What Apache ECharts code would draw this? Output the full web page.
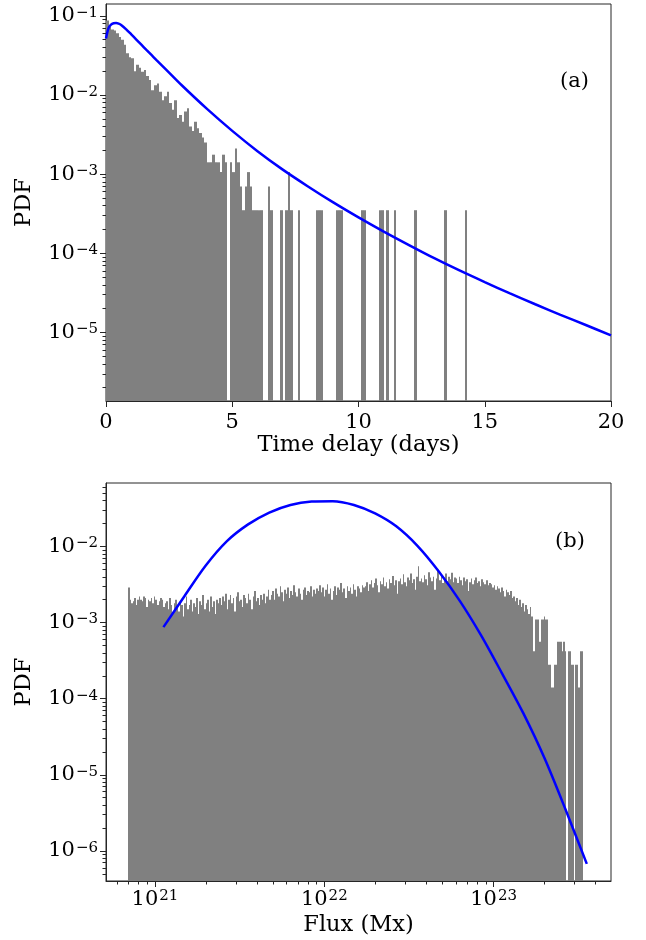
<!DOCTYPE html>
<html><head><meta charset="utf-8">
<script src="https://cdn.jsdelivr.net/npm/echarts@6/dist/echarts.min.js"></script>
<style>html,body{margin:0;padding:0;background:#fff}#c{width:646px;height:940px}</style>
</head><body><div id="c"></div>
<script>
// ---------- Panel (a): time delay ----------
const delayBinWidth = 0.1; // days per histogram bin, bins start at 0
const delayPdf = [
  0.087, 0.073, 0.067, 0.065, 0.060, 0.054, 0.050, 0.043, 0.0336, 0.030,
  0.029, 0.020, 0.024, 0.022, 0.0197, 0.0206, 0.0173, 0.0154, 0.0115, 0.0133,
  0.0140, 0.0110, 0.0086, 0.0096, 0.0110, 0.0079, 0.0065, 0.0086, 0.0051, 0.0056,
  0.0046, 0.0062, 0.0068, 0.0040, 0.0035, 0.0046, 0.0038, 0.0033, 0.0029, 0.0025,
  0.00141, 0.00141, 0.00176, 0.00141, 0.00141, 0.00106, 0.00176, 0.00141, 0, 0.00141,
  0.00106, 0.00211, 0.00141, 0.00070, 0.00035, 0.00070, 0.00106, 0.00070, 0.00035, 0.00035,
  0.00035, 0.00035, 0, 0, 0.00070, 0.00035, 0, 0, 0, 0.00035,
  0, 0.00035, 0.00106, 0.00035, 0, 0, 0.00035, 0, 0, 0,
  0, 0, 0, 0.00035, 0.00035, 0.00035, 0, 0, 0, 0,
  0, 0.00035, 0.00035, 0.00035, 0, 0, 0, 0, 0, 0,
  0, 0.00035, 0.00035, 0, 0, 0, 0, 0, 0.00035, 0.00035,
  0, 0.00035, 0, 0, 0.00035, 0, 0, 0, 0, 0,
  0, 0, 0.00035, 0, 0, 0, 0, 0, 0, 0,
  0, 0, 0, 0, 0.00035, 0, 0, 0, 0, 0,
  0, 0, 0.00035
];
const delayFitDays = [0, 0.1, 0.2, 0.3, 0.4, 0.5, 0.6, 0.8, 1.0, 1.2, 1.4, 1.6, 1.8, 2.0, 2.4, 3.0, 4, 5, 6, 7, 8, 9, 10, 11, 12, 13, 14, 15, 16, 17, 18, 19, 20];
const delayFitPdf  = [0.0518, 0.0699, 0.0774, 0.0804, 0.0809, 0.0797, 0.0768, 0.0675, 0.0582, 0.0501, 0.0431, 0.0371, 0.0320, 0.0276, 0.02062, 0.01326,
  0.00667, 0.00352, 0.00195, 0.00114, 6.99e-4, 4.39e-4, 2.84e-4, 1.88e-4, 1.27e-4, 8.67e-5, 6.06e-5, 4.32e-5, 3.11e-5, 2.27e-5, 1.67e-5, 1.24e-5, 9.16e-6];
const delayXTicks = [0, 5, 10, 15, 20];
const delayYTicks = [1e-5, 1e-4, 1e-3, 1e-2, 1e-1];
const delayXRange = [0, 20];
const delayYRange = [1.36e-6, 0.141];

// ---------- Panel (b): flux ----------
const fluxHistRange = [6.95e20, 3.37e23]; // histogram spans this range in equal log bins
const fluxPdfE3 = [ // PDF x 1e3, one value per log bin
  2.9,2.0,1.8,1.9,2.1,1.7,2.0,2.2,2.0,1.9, 2.2,2.1,1.6,2.0,1.9,2.1,1.8,2.2,2.0,1.7, 1.9,2.1,2.0,1.6,1.8,
  1.9,1.5,2.1,1.7,1.3,1.8,2.0,1.6,1.4,1.9, 1.7,1.2,1.8,2.2,1.5,1.7,2.0,1.4,1.8,1.6, 2.1,1.3,1.9,1.7,2.3,1.5,1.8,2.0,1.4,2.2, 1.6,1.9,1.3,2.0,1.8,2.1,
  1.7,2.2,1.9,2.4,1.5,2.0,2.3,1.8,2.1,1.4, 2.2,2.5,1.9,2.0,1.6,2.3,2.1,1.8,2.4,2.0, 1.5,2.2,2.6,1.9,2.1,1.7,2.3,2.0,2.4,1.8, 2.2,2.7,2.0,
  2.3,2.6,2.0,2.8,2.4,2.2,3.0,2.5,1.9,2.7, 2.4,2.9,2.1,2.6,2.3,3.1,2.5,2.2,2.8,2.4, 2.0,2.7,2.9,2.3,2.6,2.5,3.0,2.2,2.7,2.4, 2.8,2.6,3.1,
  2.5,2.9,2.2,2.7,3.2,2.4,2.8,2.0,2.6,3.0, 2.3,2.9,2.7,3.3,2.5,2.8,2.1,3.0,2.6,2.9, 2.4,3.2,2.7,2.2,3.0,2.8,2.5,3.1,2.9,
  3.0,3.4,2.6,3.2,3.6,2.9,3.3,3.8,3.1,2.5, 3.5,3.2,3.9,3.0,3.4,2.8,3.7,3.3,4.1,3.1, 3.6,2.4,3.5,3.8,3.2,4.3,3.4,3.0,3.9,3.6, 4.4,3.3,3.7,2.7,4.0,5.5,3.5,3.8,
  3.4,4.2,3.7,3.1,4.6,3.9,3.5,4.0,2.7,3.8, 4.9,3.6,4.1,3.3,3.9,4.4,3.5,4.0,3.7,4.5, 3.4,3.9,
  3.8,3.3,4.0,3.6,3.1,3.9,3.5,3.7,2.6,3.4, 3.8,3.2,3.6,3.9,3.3,3.5,3.0,3.7,3.4,3.2, 3.6,3.1,3.3,
  3.2,2.9,3.1,2.7,3.0,2.8,2.5,2.9,2.6,2.2, 2.7,2.5,2.3,2.6,2.1,
  2.2,1.9,2.1,1.7,2.0,1.6,1.8,1.4,1.7,1.5, 1.3,1.6,1.2,0.42,
  1.1,1.1,1.1,0.56,1.1,1.1,1.2,1.1,1.1,
  0.28,0.28,0.14,0.14,0.28,0.28,0.56,
  0.56,0.56,0.42,0.56,0.42,
  0,0.42,0.42,0.28,0.28,0,0.28,0.28,0.14,0.42,0.42
];
const fluxFitFlux = [1.122e21, 1.496e21, 1.995e21, 2.661e21, 3.548e21, 4.732e21, 6.310e21, 8.414e21, 1.122e22, 1.496e22, 1.995e22,
  2.661e22, 3.548e22, 4.732e22, 6.310e22, 8.414e22, 1.122e23, 1.496e23, 1.995e23, 2.661e23, 3.548e23];
const fluxFitPdf  = [8.71e-4, 2.24e-3, 5.62e-3, 1.175e-2, 1.95e-2, 2.79e-2, 3.51e-2, 3.89e-2, 3.94e-2, 3.51e-2, 2.72e-2,
  1.84e-2, 1.02e-2, 4.73e-3, 1.93e-3, 6.84e-4, 2.14e-4, 6.46e-5, 1.66e-5, 3.47e-6, 6.76e-7];
const fluxXTicks = [1e21, 1e22, 1e23];
const fluxYTicks = [1e-6, 1e-5, 1e-4, 1e-3, 1e-2];
const fluxXRange = [5.14e20, 4.93e23];
const fluxYRange = [4.03e-7, 0.0682];

// ---------- helpers ----------
const FONT = '"DejaVu Serif", serif';
const AX = '#262626';
const BAR = '#808080';
function powLabel(v) {
  const e = Math.round(Math.log10(v));
  return '10{s|' + (e < 0 ? '\u2212' : '') + Math.abs(e) + '}';
}
function minorTicks(range) {
  const out = [];
  for (let e = Math.floor(Math.log10(range[0])); e <= Math.ceil(Math.log10(range[1])); e++) {
    for (let m = 2; m <= 9; m++) {
      const v = m * Math.pow(10, e);
      if (v >= range[0] && v <= range[1]) out.push(v);
    }
  }
  return out;
}
const richSup = { s: { fontSize: 15, fontFamily: FONT, color: '#000', verticalAlign: 'top', padding: [0, 0, 0, 1] } };
function bars(yBase) {
  return function (params, api) {
    const p0 = api.coord([api.value(0), api.value(2)]);
    const p1 = api.coord([api.value(1), yBase]);
    const x0 = Math.round(p0[0]);
    let x1 = Math.round(p1[0]);
    if (x1 <= x0) x1 = x0 + 1;
    return { type: 'rect', shape: { x: x0, y: p0[1], width: x1 - x0, height: p1[1] - p0[1] },
      style: { fill: BAR, opacity: 1 } };
  };
}
const histA = [];
delayPdf.forEach((v, i) => { if (v > 0) histA.push([i * delayBinWidth, (i + 1) * delayBinWidth, v]); });
const histB = [];
const lb0 = Math.log10(fluxHistRange[0]), lb1 = Math.log10(fluxHistRange[1]);
const dl = (lb1 - lb0) / fluxPdfE3.length;
fluxPdfE3.forEach((v, i) => { if (v > 0) histB.push([Math.pow(10, lb0 + i * dl), Math.pow(10, lb0 + (i + 1) * dl), v * 1e-3]); });

const labelBase = { fontFamily: FONT, fontSize: 21, color: '#000' };
const nameStyle = { fontFamily: FONT, fontSize: 22.5, color: '#000' };
function logAxisMajor(grid, range, ticks, extra) {
  return Object.assign({
    type: 'log', logBase: 10, gridIndex: grid, min: range[0], max: range[1],
    axisLine: { show: true, lineStyle: { color: AX, width: 1 } },
    axisTick: { show: true, length: 6, lineStyle: { color: AX, width: 1 }, customValues: ticks },
    axisLabel: Object.assign({}, labelBase, { customValues: ticks, formatter: powLabel, rich: richSup }),
    splitLine: { show: false }, minorTick: { show: false }
  }, extra);
}
function logAxisMinor(grid, range, extra) {
  const m = minorTicks(range);
  return Object.assign({
    type: 'log', logBase: 10, gridIndex: grid, min: range[0], max: range[1],
    axisLine: { show: false },
    axisTick: { show: true, length: 3.5, lineStyle: { color: AX, width: 1 }, customValues: m },
    axisLabel: { show: false, customValues: m },
    splitLine: { show: false }
  }, extra);
}

const chart = echarts.init(document.getElementById('c'), null, { renderer: 'canvas' });
chart.setOption({
  animation: false,
  backgroundColor: '#fff',
  grid: [
    { left: 106, top: 4, width: 505, height: 397, show: true, borderColor: AX, borderWidth: 1, outerBoundsMode: 'none' },
    { left: 106, top: 483, width: 505, height: 398, show: true, borderColor: AX, borderWidth: 1, outerBoundsMode: 'none' }
  ],
  xAxis: [
    { type: 'value', gridIndex: 0, min: delayXRange[0], max: delayXRange[1], interval: 5,
      name: 'Time delay (days)', nameLocation: 'middle', nameGap: 33, nameTextStyle: nameStyle,
      axisLine: { show: true, lineStyle: { color: AX, width: 1 } },
      axisTick: { show: true, length: 6, lineStyle: { color: AX }, customValues: delayXTicks },
      axisLabel: Object.assign({}, labelBase, { margin: 11, customValues: delayXTicks }),
      splitLine: { show: false } },
    logAxisMajor(1, fluxXRange, fluxXTicks, { position: 'bottom', name: 'Flux (Mx)', nameLocation: 'middle', nameGap: 33, nameTextStyle: nameStyle }),
    logAxisMinor(1, fluxXRange, { position: 'bottom' })
  ],
  yAxis: [
    logAxisMajor(0, delayYRange, delayYTicks, { position: 'left', name: 'PDF', nameLocation: 'middle', nameGap: 70, nameRotate: 90, nameTextStyle: nameStyle }),
    logAxisMinor(0, delayYRange, { position: 'left' }),
    logAxisMajor(1, fluxYRange, fluxYTicks, { position: 'left', name: 'PDF', nameLocation: 'middle', nameGap: 70, nameRotate: 90, nameTextStyle: nameStyle }),
    logAxisMinor(1, fluxYRange, { position: 'left' })
  ],
  series: [
    { type: 'custom', xAxisIndex: 0, yAxisIndex: 0, data: histA, encode: { x: [0, 1], y: 2 }, renderItem: bars(delayYRange[0]), z: 1, silent: true },
    { type: 'line', xAxisIndex: 0, yAxisIndex: 0, data: delayFitDays.map((d, i) => [d, delayFitPdf[i]]),
      smooth: 0.3, showSymbol: false, lineStyle: { color: '#0000ff', width: 2.5 }, z: 3, silent: true },
    { type: 'custom', xAxisIndex: 1, yAxisIndex: 2, data: histB, encode: { x: [0, 1], y: 2 }, renderItem: bars(fluxYRange[0]), z: 1, silent: true },
    { type: 'line', xAxisIndex: 1, yAxisIndex: 2, data: fluxFitFlux.map((f, i) => [f, fluxFitPdf[i]]),
      smooth: 0.3, showSymbol: false, lineStyle: { color: '#0000ff', width: 2.5 }, z: 3, silent: true }
  ],
  graphic: [
    { type: 'text', left: 560, top: 71, style: { text: '(a)', font: '21px "DejaVu Serif", serif', fill: '#000' } },
    { type: 'text', left: 555, top: 531, style: { text: '(b)', font: '21px "DejaVu Serif", serif', fill: '#000' } }
  ]
});
</script>
</body></html>
